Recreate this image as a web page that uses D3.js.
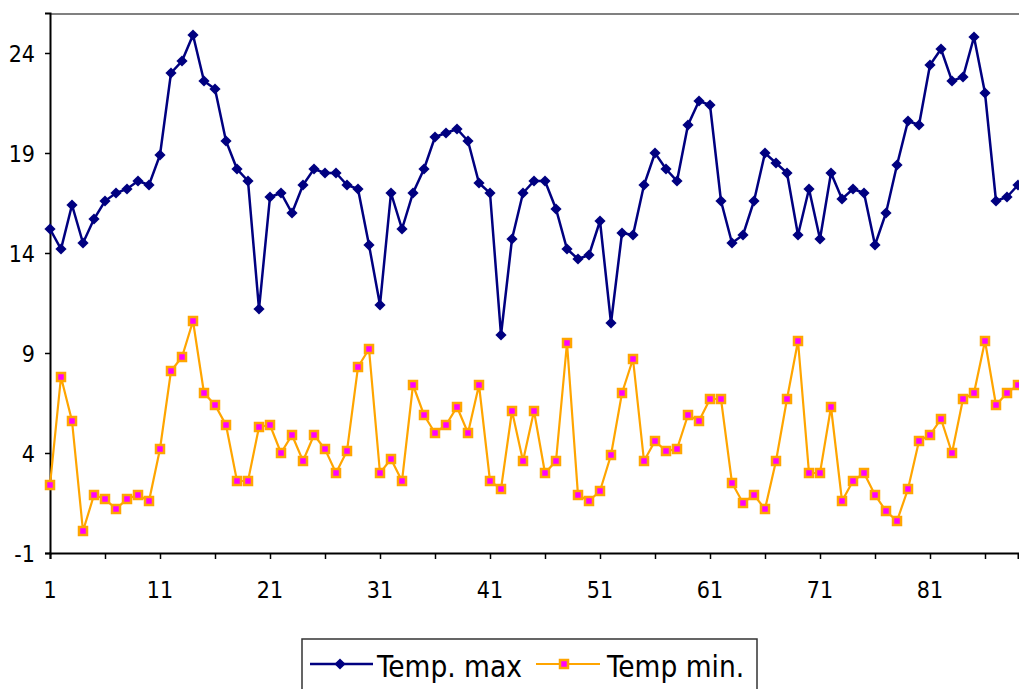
<!DOCTYPE html>
<html>
<head>
<meta charset="utf-8">
<script src="https://cdn.jsdelivr.net/npm/d3@7"></script>
<style>
  body { margin: 0; background: #fff; }
  svg { display: block; }
  text { font-family: "DejaVu Sans Condensed", "DejaVu Sans", sans-serif; fill: #000; }
</style>
</head>
<body>
<svg id="chart" width="1019" height="689"></svg>
<script>
// daily temperatures
var tempMax = [15.2,14.2,16.4,14.5,15.7,16.6,17.0,17.2,17.6,17.4,
               18.9,23.0,23.6,24.9,22.6,22.2,19.6,18.2,17.6,11.2,
               16.8,17.0,16.0,17.4,18.2,18.0,18.0,17.4,17.2,14.4,
               11.4,17.0,15.2,17.0,18.2,19.8,20.0,20.2,19.6,17.5,
               17.0,9.9,14.7,17.0,17.6,17.6,16.2,14.2,13.7,13.9,
               15.6,10.5,15.0,14.9,17.4,19.0,18.2,17.6,20.4,21.6,
               21.4,16.6,14.5,14.9,16.6,19.0,18.5,18.0,14.9,17.2,
               14.7,18.0,16.7,17.2,17.0,14.4,16.0,18.4,20.6,20.4,
               23.4,24.2,22.6,22.8,24.8,22.0,16.6,16.8,17.4];
var tempMin = [2.4,7.8,5.6,0.1,1.9,1.7,1.2,1.7,1.9,1.6,
               4.2,8.1,8.8,10.6,7.0,6.4,5.4,2.6,2.6,5.3,
               5.4,4.0,4.9,3.6,4.9,4.2,3.0,4.1,8.3,9.2,
               3.0,3.7,2.6,7.4,5.9,5.0,5.4,6.3,5.0,7.4,
               2.6,2.2,6.1,3.6,6.1,3.0,3.6,9.5,1.9,1.6,
               2.1,3.9,7.0,8.7,3.6,4.6,4.1,4.2,5.9,5.6,
               6.7,6.7,2.5,1.5,1.9,1.2,3.6,6.7,9.6,3.0,
               3.0,6.3,1.6,2.6,3.0,1.9,1.1,0.6,2.2,4.6,
               4.9,5.7,4.0,6.7,7.0,9.6,6.4,7.0,7.4];
var seriesNames = ["Temp. max", "Temp min."];
var yTicks = [-1, 4, 9, 14, 19, 24];
var xTickMarks = d3.range(1, 90, 5);
var xTickLabels = [1, 11, 21, 31, 41, 51, 61, 71, 81];

var svg = d3.select("#chart");

var x = d3.scaleLinear().domain([1, 89]).range([50, 1018]);
var y = d3.scaleLinear().domain([-1, 26]).range([553, 13]);

// plot frame (only top edge shows, rest is cut off)
svg.append("line")
    .attr("x1", 50).attr("x2", 1019)
    .attr("y1", y(26) + 1).attr("y2", y(26) + 1)
    .attr("stroke", "#808080").attr("stroke-width", 2);

// y axis
var yAxis = svg.append("g")
    .attr("transform", "translate(50,0)")
    .call(d3.axisLeft(y).tickValues(yTicks).tickSize(5).tickPadding(10).tickFormat(function(d){ return String(d); }));
yAxis.select(".domain").attr("stroke", "#000").attr("stroke-width", 2);
yAxis.selectAll(".tick line").attr("stroke", "#000").attr("stroke-width", 1.5);
yAxis.selectAll("text").style("font-size", "23px").attr("dy", "0.36em");

// x axis
var xAxis = svg.append("g")
    .attr("transform", "translate(0," + y(-1) + ")")
    .call(d3.axisBottom(x).tickValues(xTickMarks).tickSize(6).tickFormat(""));
xAxis.select(".domain").attr("stroke", "#000").attr("stroke-width", 2);
xAxis.selectAll(".tick line").attr("stroke", "#000").attr("stroke-width", 1.5);

svg.append("g").selectAll("text")
    .data(xTickLabels)
    .enter().append("text")
    .attr("x", function(d){ return x(d); })
    .attr("y", 598)
    .attr("text-anchor", "middle")
    .style("font-size", "23px")
    .text(function(d){ return d; });

var line = d3.line()
    .x(function(d, i){ return x(i + 1); })
    .y(function(d){ return y(d); });

// Temp max
svg.append("path")
    .datum(tempMax)
    .attr("d", line)
    .attr("fill", "none")
    .attr("stroke", "#000080")
    .attr("stroke-width", 2.5);

var diamond = d3.symbol().type(d3.symbolDiamond2).size(80);
svg.append("g").selectAll("path")
    .data(tempMax)
    .enter().append("path")
    .attr("d", diamond)
    .attr("transform", function(d, i){ return "translate(" + x(i + 1) + "," + y(d) + ")"; })
    .attr("fill", "#000080");

// Temp min
svg.append("path")
    .datum(tempMin)
    .attr("d", line)
    .attr("fill", "none")
    .attr("stroke", "#FFA500")
    .attr("stroke-width", 2.2);

svg.append("g").selectAll("rect")
    .data(tempMin)
    .enter().append("rect")
    .attr("x", function(d, i){ return x(i + 1) - 4; })
    .attr("y", function(d){ return y(d) - 4; })
    .attr("width", 8).attr("height", 8)
    .attr("fill", "#FF00FF")
    .attr("stroke", "#FFA500")
    .attr("stroke-width", 2.5);

// legend
var lg = svg.append("g");
lg.append("rect")
    .attr("x", 302).attr("y", 639)
    .attr("width", 455).attr("height", 70)
    .attr("fill", "#fff")
    .attr("stroke", "#333").attr("stroke-width", 1.5);

lg.append("line").attr("x1", 310).attr("x2", 373).attr("y1", 664).attr("y2", 664)
    .attr("stroke", "#000080").attr("stroke-width", 2.5);
lg.append("path").attr("d", diamond).attr("transform", "translate(340,664)").attr("fill", "#000080");
lg.append("text").attr("x", 377).attr("y", 677).style("font-size", "29.5px").text(seriesNames[0]);

lg.append("line").attr("x1", 536).attr("x2", 600).attr("y1", 664).attr("y2", 664)
    .attr("stroke", "#FFA500").attr("stroke-width", 2.2);
lg.append("rect").attr("x", 560).attr("y", 660).attr("width", 8).attr("height", 8)
    .attr("fill", "#FF00FF").attr("stroke", "#FFA500").attr("stroke-width", 2.5);
lg.append("text").attr("x", 607).attr("y", 677).style("font-size", "29.5px").text(seriesNames[1]);
</script>
</body>
</html>
